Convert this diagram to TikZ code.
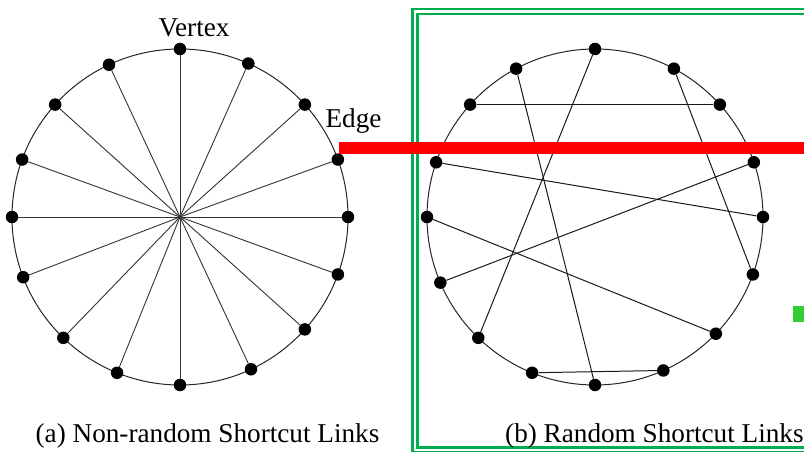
\documentclass[tikz,border=0pt]{standalone}
\usepackage{fontspec}
\setmainfont{Liberation Serif}
\usepackage{tikz}
\usetikzlibrary{positioning}
\definecolor{framegreen}{HTML}{00B050}
\definecolor{markgreen}{HTML}{32CD32}

\begin{document}
\begin{tikzpicture}[
  x=1pt, y=-1pt,
  vertex/.style={circle, fill=black, inner sep=0pt, minimum size=12.5pt},
  ring/.style={draw=black!85, line width=1pt},
  spoke/.style={draw=black!80, line width=0.9pt},
  shortcut/.style={draw=black!90, line width=1pt},
  label/.style={font=\fontsize{27.2}{30}\selectfont, inner sep=0pt, anchor=base}
]
\useasboundingbox (0,0) rectangle (804,452);

% frame of panel (b)
\draw[framegreen, line width=2.5pt, double=white, double distance=2.5pt]
  (415,11.75) rectangle (840,450);

% (a) non-random links
\coordinate (lc) at (180,217);
\draw[ring] (lc) circle[radius=168];
\foreach \a [count=\i] in {0,20,42,66,90,115,138,160,180,201,226,248,270,295,318,340}
  \path (lc) ++(-\a:168) node[vertex] (l\i) {};
\foreach \i in {1,...,16}
  \draw[spoke] (l\i) -- (lc);

% (b) random links
\coordinate (rc) at (595,217);
\draw[ring] (rc) circle[radius=168];
\foreach \a [count=\i] in {0,19,42,62,90,118,138,161,180,203,226,248,270,294,316,340}
  \path (rc) ++(-\a:168) node[vertex] (r\i) {};
\foreach \u/\v in {5/11, 6/13, 7/3, 4/16, 8/1, 2/10, 9/15, 12/14}
  \draw[shortcut] (r\u) -- (r\v);

\fill[red] (339,142.3) rectangle (810,154);
\fill[markgreen] (793,306) rectangle (810,322);

\node[label] (vertexlbl) at (194,37) {Vertex};
\node[label] (edgelbl) at (353.5,128) {Edge};
\node[label] (capa) at (207.5,442) {(a) Non-random Shortcut Links};
\node[label, anchor=base west] (capb) at (505,442) {(b) Random Shortcut Links};
\end{tikzpicture}
\end{document}
